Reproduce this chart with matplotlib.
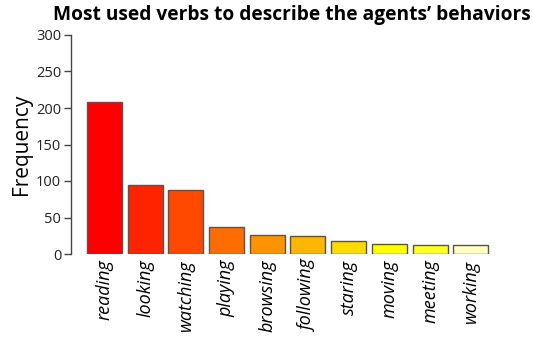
import matplotlib
matplotlib.use("Agg")
import matplotlib.pyplot as plt

verbs = ["reading", "looking", "watching", "playing", "browsing",
         "following", "staring", "moving", "meeting", "working"]
freq = [208, 94, 87, 37, 26, 25, 18, 14, 13, 13]
colors = ["#FF0000", "#FF2400", "#FF4900", "#FF6D00", "#FF9200",
          "#FFB600", "#FFDB00", "#FFFF00", "#FFFF20", "#FFFFBF"]
yticks = [0, 50, 100, 150, 200, 250, 300]

plt.rcParams['font.family'] = ['Open Sans', 'DejaVu Sans']

fig = plt.figure(figsize=(5.33, 3.37), dpi=100)
W, H = 533, 337
ax = fig.add_axes([71 / W, 1 - 254 / H, (525 - 71) / W, (254 - 35) / H])

x = list(range(len(verbs)))
ax.bar(x, freq, width=0.86, color=colors, edgecolor="#555555", linewidth=1.0)

ax.set_ylim(0, 300)
ax.set_xlim(-0.82, 10.33)
ax.set_yticks(yticks)
ax.set_yticklabels([str(t) for t in yticks], fontsize=10.5, color="#222222")
ax.set_xticks(x)
ax.set_xticklabels(verbs, rotation=90, style="italic", fontsize=13,
                   ha="center", va="top")
ax.tick_params(axis="x", length=0, pad=4)
ax.tick_params(axis="y", length=5, width=1, color="#444444", pad=2)

for s in ["top", "right", "bottom"]:
    ax.spines[s].set_visible(False)
ax.spines["left"].set_color("#444444")
ax.spines["left"].set_linewidth(1)

ax.set_ylabel("Frequency", fontsize=15, labelpad=3)

fig.text(292 / W, 1 - 15 / H, "Most used verbs to describe the agents\u2019 behaviors",
         ha="center", va="center", fontsize=13.8, fontweight="bold")

fig.savefig("out.png", dpi=100)
